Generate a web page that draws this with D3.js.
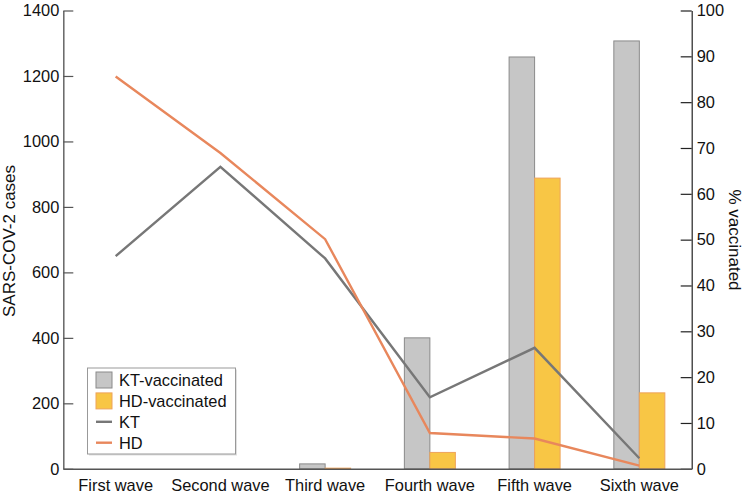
<!DOCTYPE html>
<html><head><meta charset="utf-8">
<script src="https://cdn.jsdelivr.net/npm/d3@7"></script>
<style>body{margin:0;background:#fff;} text{font-family:"Liberation Sans",Arial,sans-serif;}</style>
</head><body><svg id="c" width="743" height="496"></svg>
<script>
const categories = ["First wave","Second wave","Third wave","Fourth wave","Fifth wave","Sixth wave"];
const ktVaccinated = [0, 0, 15, 400, 1258, 1307];
const hdVaccinated = [0, 0, 2, 50, 888, 232];
const ktPct = [46.4, 65.9, 45.9, 15.6, 26.4, 2.3];
const hdPct = [85.6, 68.9, 50.1, 7.8, 6.6, 0.7];
const leftTicks = [0,200,400,600,800,1000,1200,1400];
const rightTicks = [0,10,20,30,40,50,60,70,80,90,100];

const FS = 16.4;
const FF = "Liberation Sans, Arial, sans-serif";
const svg = d3.select("#c");
const L = 63.3, R = 691.7, T = 10.5, B = 468.8;
const x = d3.scaleBand().domain(categories).range([L, R]).padding(0);
const yL = d3.scaleLinear().domain([0,1400]).range([B, T]);
const yR = d3.scaleLinear().domain([0,100]).range([B, T]);
const bw = 25.5;

// bars
const g = svg.append("g");
categories.forEach((c,i)=>{
  const cx = x(c) + x.bandwidth()/2;
  if (ktVaccinated[i] > 0) g.append("rect").attr("x", cx-bw).attr("width", bw)
    .attr("y", yL(ktVaccinated[i])).attr("height", B - yL(ktVaccinated[i]))
    .attr("fill","#c6c6c6").attr("stroke","#8a8a8a").attr("stroke-width",1);
  if (hdVaccinated[i] > 0) g.append("rect").attr("x", cx).attr("width", bw)
    .attr("y", yL(hdVaccinated[i])).attr("height", B - yL(hdVaccinated[i]))
    .attr("fill","#f8c645").attr("stroke","#eea35a").attr("stroke-width",1);
});

// lines
const line = d3.line().x((d,i)=>x(categories[i]) + x.bandwidth()/2).y(d=>yR(d));
svg.append("path").datum(ktPct).attr("d", line).attr("fill","none").attr("stroke","#777").attr("stroke-width",2.4);
svg.append("path").datum(hdPct).attr("d", line).attr("fill","none").attr("stroke","#e8875c").attr("stroke-width",2.4);

// axes
const left = d3.axisLeft(yL).tickValues(leftTicks).tickFormat(d3.format("d")).tickSize(-10).tickPadding(4).tickSizeOuter(0);
const gl = svg.append("g").attr("transform",`translate(${L},0)`).call(left);
gl.select(".domain").attr("stroke","#666").attr("stroke-width",1.5);
gl.selectAll(".tick line").attr("stroke","#555").attr("stroke-width",1.2);
gl.selectAll(".tick text").attr("font-size",FS).attr("fill","#111").attr("font-family",FF);

const right = d3.axisRight(yR).tickValues(rightTicks).tickFormat(d3.format("d")).tickSize(-11).tickPadding(5).tickSizeOuter(0);
const gr = svg.append("g").attr("transform",`translate(${R},0)`).call(right);
gr.select(".domain").attr("stroke","#222").attr("stroke-width",1.2);
gr.selectAll(".tick line").attr("stroke","#222").attr("stroke-width",1.2);
gr.selectAll(".tick text").attr("font-size",FS).attr("fill","#111").attr("font-family",FF);

const bottom = d3.axisBottom(x).tickSize(0).tickPadding(11);
const gb = svg.append("g").attr("transform",`translate(0,${B})`).call(bottom);
gb.select(".domain").attr("stroke","#555").attr("stroke-width",1.5);
gb.selectAll(".tick text").attr("font-size",FS).attr("fill","#111").attr("font-family",FF);

// axis titles
svg.append("text").attr("transform","translate(15,241) rotate(-90)").attr("text-anchor","middle")
  .attr("font-size",17).attr("fill","#111").text("SARS-COV-2 cases");
svg.append("text").attr("transform","translate(729,240) rotate(90)").attr("text-anchor","middle")
  .attr("font-size",17).attr("fill","#111").text("% vaccinated");

// legend
const lg = svg.append("g");
lg.append("rect").attr("x",89).attr("y",369.5).attr("width",148).attr("height",86).attr("fill","#ccc").attr("opacity",0.6);
lg.append("rect").attr("x",87.5).attr("y",368).attr("width",148).attr("height",86).attr("fill","#fff").attr("stroke","#999").attr("stroke-width",1);
const items = [
  {label:"KT-vaccinated", type:"rect", fill:"#c6c6c6", stroke:"#8a8a8a"},
  {label:"HD-vaccinated", type:"rect", fill:"#f8c645", stroke:"#eea35a"},
  {label:"KT", type:"line", stroke:"#777"},
  {label:"HD", type:"line", stroke:"#e8875c"}
];
items.forEach((it,i)=>{
  const cy = 380 + i*20.9;
  if (it.type==="rect") lg.append("rect").attr("x",96).attr("y",cy-8).attr("width",16).attr("height",16)
    .attr("fill",it.fill).attr("stroke",it.stroke);
  else lg.append("line").attr("x1",96).attr("x2",112).attr("y1",cy).attr("y2",cy).attr("stroke",it.stroke).attr("stroke-width",2.4);
  lg.append("text").attr("x",119).attr("y",cy+6).attr("font-size",FS).attr("fill","#111").text(it.label);
});
</script></body></html>
